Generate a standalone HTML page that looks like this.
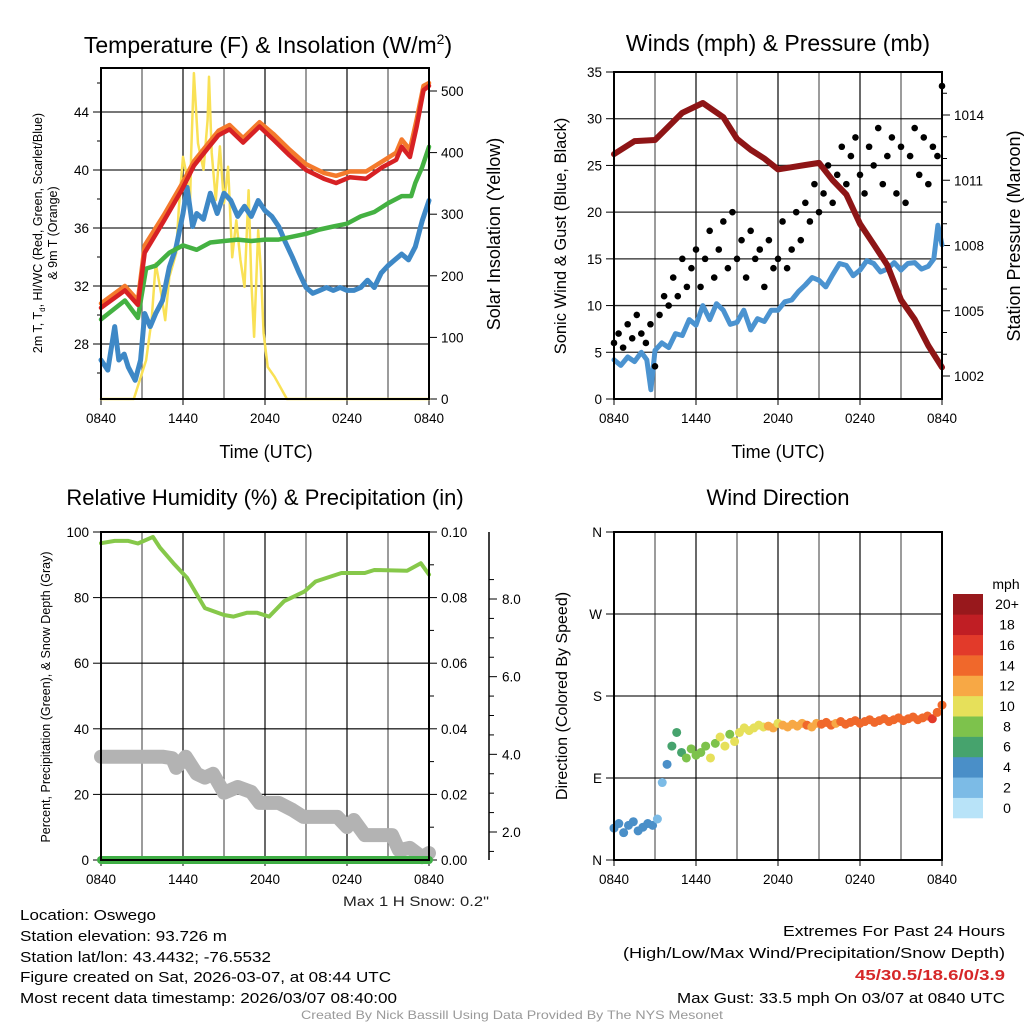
<!DOCTYPE html>
<html><head><meta charset="utf-8">
<style>
html,body{margin:0;padding:0;background:#fff;}
svg{display:block;font-family:"Liberation Sans",sans-serif;}
</style></head>
<body>
<svg id="chart" width="1024" height="1024" viewBox="0 0 1024 1024">
<rect width="1024" height="1024" fill="#fff"/>
<g id="root"></g>
</svg>
<script>
// ---------- DATA ----------
const redT = [0,1.75,2.7,3.2,4.6,5.9,6.8,7.9,8.6,9.4,10.4,11.6,12.6,13.8,15,16.3,17.2,18.2,19.4,20.6,21.6,22,22.6,23.1,23.6,24];
const redV = [30.5,31.7,30.7,34.3,36.5,38.6,40.3,41.6,42.4,42.8,41.9,43,42.1,41,40,39.4,39.1,39.5,39.4,40.2,40.7,41.6,40.9,43,45.5,45.8];
const orangeV = [30.8,32,31,34.8,36.9,39,40.6,41.9,42.7,43.1,42.2,43.3,42.5,41.4,40.4,39.8,39.6,39.9,39.9,40.6,41.2,42.1,41.4,43.5,45.8,46];
const greenT = [0,1.75,2.7,3.3,4,5,6,7,8,9,10,11,12,13,14,15,16,17,18,19,20,21,22,22.7,23,23.5,24];
const greenV = [29.7,31,29.8,33.2,33.4,34.3,34.8,34.5,35,35.1,35.2,35.1,35.2,35.2,35.4,35.6,35.9,36.1,36.3,36.8,37.1,37.7,38.2,38.2,39.1,40.2,41.6];
const blueT = [0,0.5,1,1.3,1.7,2,2.5,2.9,3.2,3.6,4,4.5,5,5.5,6,6.3,6.7,7,7.5,8,8.5,9,9.5,10,10.5,11,11.5,12,12.5,13,13.5,14,14.5,15,15.5,16,16.5,17,17.5,18,18.5,19,19.5,20,20.5,21,21.5,22,22.5,23,23.5,24];
const blueV = [26.9,26.2,29.2,26.9,27.3,26.4,25.5,26.9,30.1,29.2,30.1,31,33.3,34.7,37,38.8,36.1,37,36.6,38.4,37,38.4,37.9,36.8,37.5,36.8,37.9,37.2,36.8,36.1,35,34,32.9,31.9,31.5,31.7,31.9,31.7,31.9,31.7,31.7,31.9,32.4,31.9,32.9,33.4,33.8,34.2,33.8,34.7,36.5,37.9];
const solarT = [0,2.4,3.3,3.7,4,4.4,4.7,5,5.5,5.7,6,6.3,6.5,6.6,6.8,7.1,7.5,7.8,7.9,8.1,8.4,8.7,9,9.3,9.6,9.9,10.2,10.5,10.8,11,11.2,11.5,11.7,11.9,12.2,12.7,13.6,24];
const solarV = [0,0,63,128,220,172,128,198,237,312,393,360,300,400,529,415,372,453,523,400,323,410,318,377,230,290,226,182,339,193,101,274,208,107,52,36,0,0];
const presT = [0,1.5,3,5,6.5,8,9,10,11,12,13,14,15,16,17,18,19,20,21,22,23,24];
const presV = [1012.2,1012.8,1012.85,1014.1,1014.55,1013.9,1012.9,1012.4,1012,1011.5,1011.6,1011.7,1011.8,1011,1010.35,1009,1008.05,1007.1,1005.5,1004.6,1003.4,1002.4];
const windT = [0,0.5,1,1.5,2,2.4,2.7,3,3.5,4,4.5,5,5.5,6,6.5,7,7.5,8,8.5,9,9.5,10,10.5,11,11.5,12,12.5,13,13.5,14,14.5,15,15.5,16,16.5,17,17.5,18,18.5,19,19.5,20,20.5,21,21.5,22,22.5,23,23.4,23.7,24];
const windV = [4.2,3.6,4.5,4.0,5,4.2,1,5.2,6,5.5,7,6.8,8.5,7.9,10,8.5,10.2,9.5,8,8.2,9.5,7.4,8.6,8.3,9.5,9.5,10.4,10.6,11.5,12.2,13,12.7,12,13.3,14.5,14.3,13.2,13.8,14.8,14.5,13.6,13.9,14.6,13.8,14.5,14.6,13.9,14.2,15,18.6,16.5];
const gustV = [6,7,5.5,8,6.5,9,7,6,8,3.5,9,11,10,13,11,15,12,14,16,12,15,18,13,16,19,14,20,15,17,13,18,15,16,12,17,14,15,19,14,16,20,17,21,19,23,20,22,25,21,24,27,23,26,28,24,22,27,25,29,23,26,28,22,27,21,26,29,24,28,23,27,26,33.5];
const rhT = [0,1,2,2.7,3.8,4.3,5.3,6.3,7.6,9,9.7,10.7,11.4,12.3,13.4,14.9,15.7,17.6,19.3,20,22.4,23.4,24];
const rhV = [96.6,97.3,97.3,96.5,98.5,95.3,90.5,86,76.8,74.7,74.2,75.4,75.4,74.2,78.9,81.9,84.9,87.5,87.5,88.4,88.2,90.5,87];
const precipT = [0,24];
const precipV = [0,0];
const snowT = [0,4.5,5.2,5.5,6.2,7,7.6,8.2,9,10,11,11.6,13,14,14.8,17.3,18,18.5,19.3,21.3,21.8,22.6,23.5,24];
const snowV = [3.94,3.94,3.9,3.65,3.94,3.5,3.40,3.5,3.01,3.16,3.03,2.75,2.75,2.57,2.39,2.39,2.13,2.31,1.92,1.92,1.53,1.59,1.35,1.46];
const dirV = [35,40,30,38,42,32,36,40,38,45,85,105,125,140,118,112,122,115,118,125,112,128,135,125,138,130,
  140,145,142,145,148,146,147,145,150,148,146,149,147,150,148,146,150,149,151,148,150,152,149,151,153,150,152,154,151,153,155,152,154,156,153,155,157,154,156,158,155,162,170];
const dirSpd = [4,4,3,4,4,3,4,4,3,1,2,4,6,6,6,7,7,8,8,7,9,8,10,9,8,9,10,9,10,9,10,10,11,11,10,11,12,11,12,12,13,12,12,13,14,13,12,14,13,14,14,13,14,13,14,13,14,14,13,14,14,13,14,14,13,14,15,14,14,15,17,18,19];
const tLabels = ["0840","1440","2040","0240","0840"];
const tempTicks = [28,32,36,40,44];
const solarTicks = [0,100,200,300,400,500];
const windTicks = [0,5,10,15,20,25,30,35];
const presTicks = [1002,1005,1008,1011,1014];
const rhTicks = [0,20,40,60,80,100];
const precipTicks = ["0.00","0.02","0.04","0.06","0.08","0.10"];
const snowTicks = [2,4,6,8];
const dirTicks = ["N","E","S","W","N"];
const cbLabels = ["0","2","4","6","8","10","12","14","16","18","20+"];
const cbColors = ["#b8e3f8","#7cbbe6","#4a8fc8","#46a36d","#7dc24c","#e6e05a","#f7a845","#f0682b","#e23a2a","#c01e24","#98181c"];

// ---------- HELPERS ----------
const NS="http://www.w3.org/2000/svg";
const root=document.getElementById('root');
function el(tag,attrs,parent){const e=document.createElementNS(NS,tag);for(const k in attrs)e.setAttribute(k,attrs[k]);(parent||root).appendChild(e);return e;}
function lin(d0,d1,r0,r1){return v=>r0+(v-d0)*(r1-r0)/(d1-d0);}
function txt(s,x,y,size,anchor,parent,extra){const t=el('text',Object.assign({x:x,y:y,'font-size':size,'text-anchor':anchor||'middle',fill:'#000'},extra||{}),parent);t.textContent=s;return t;}
function path(xs,ys,sx,sy,g,style){let d='';for(let i=0;i<xs.length;i++){d+=(i?'L':'M')+sx(xs[i]).toFixed(1)+','+sy(ys[i]).toFixed(1);}return el('path',Object.assign({d:d,fill:'none','stroke-linejoin':'round','stroke-linecap':'round'},style),g);}

function frame(P,name){
  const g=el('g',{});
  
  
  P.g=g;
  P.sx=lin(0,24,P.x0,P.x1);
  for(let h=3;h<24;h+=3){const x=P.sx(h);el('line',{x1:x,x2:x,y1:P.y0,y2:P.y1,stroke:'#000','stroke-width':1.3,'stroke-opacity':h%6?0.6:0.9},g);}
  const xl=el('g',{},g);
  
  
  tLabels.forEach((s,i)=>{const x=P.sx(i*6);el('line',{x1:x,x2:x,y1:P.y1,y2:P.y1+6,stroke:'#000','stroke-width':1},g);txt(s,x,P.y1+24,13.5,'middle',xl);});
  return g;
}
function box(P){el('rect',{x:P.x0,y:P.y0,width:P.x1-P.x0,height:P.y1-P.y0,fill:'none',stroke:'#000','stroke-width':2},P.g);}
function hgrid(P,vals,sy,labels,side){
  const lg=el('g',{},P.g);
  
  
  vals.forEach((v,i)=>{const y=sy(v);
    if(side==='left'){el('line',{x1:P.x0,x2:P.x1,y1:y,y2:y,stroke:'#000','stroke-width':1.3,'stroke-opacity':0.85},P.g);el('line',{x1:P.x0-8,x2:P.x0,y1:y,y2:y,stroke:'#000'},P.g);txt(labels?labels[i]:String(v),P.x0-12,y+5,13.5,'end',lg);}
    else{el('line',{x1:P.x1,x2:P.x1+8,y1:y,y2:y,stroke:'#000'},P.g);txt(labels?labels[i]:String(v),P.x1+12,y+5,13.5,'start',lg);}
  });
}

// ---------- PANEL 1 ----------
const P1={x0:101,x1:429,y0:68,y1:399};
frame(P1,'temperature-panel');
const syT=lin(28,44,344,112), sySol=lin(0,500,399,91);
hgrid(P1,tempTicks,syT,null,'left');
hgrid(P1,solarTicks,sySol,null,'right');
for(let v=26;v<=46;v+=2){if(v%4){const y=syT(v);el('line',{x1:P1.x0-4,x2:P1.x0,y1:y,y2:y,stroke:'#000'},P1.g);}}
let s;
s=path(solarT,solarV,P1.sx,sySol,P1.g,{stroke:'#f9e155','stroke-width':2.5});


s=path(blueT,blueV,P1.sx,syT,P1.g,{stroke:'#3e88c6','stroke-width':5});


s=path(greenT,greenV,P1.sx,syT,P1.g,{stroke:'#44b142','stroke-width':4.5});


s=path(redT,orangeV,P1.sx,syT,P1.g,{stroke:'#f47a2c','stroke-width':4.5});


s=path(redT,redV,P1.sx,syT,P1.g,{stroke:'#d72124','stroke-width':4.5});


box(P1);
s=el('text',{x:268,y:53,'font-size':23,'text-anchor':'middle'});
s.innerHTML='Temperature (F) &amp; Insolation (W/m<tspan font-size="14" dy="-9">2</tspan><tspan dy="9">)</tspan>';


s=el('text',{transform:'translate(42,233) rotate(-90)','font-size':12.5,'text-anchor':'middle'});
s.innerHTML='2m T, T<tspan font-size="8" dy="3">d</tspan><tspan dy="-3">, HI/WC (Red, Green, Scarlet/Blue)</tspan>';


s=txt('& 9m T (Orange)',0,0,12.5,'middle',root,{transform:'translate(57,233) rotate(-90)'});


s=txt('Solar Insolation (Yellow)',0,0,18,'middle',root,{transform:'translate(500,234) rotate(-90)'});


s=txt('Time (UTC)',266,458,18);



// ---------- PANEL 2 ----------
const P2={x0:614,x1:942,y0:72,y1:399};
frame(P2,'winds-panel');
const syW=lin(0,35,399,72), syP=lin(1002,1014,376,115);
hgrid(P2,windTicks,syW,null,'left');
hgrid(P2,presTicks,syP,null,'right');
for(let v=1003;v<=1015;v++){if((v-1002)%3){const y=syP(v);el('line',{x1:P2.x1,x2:P2.x1+5,y1:y,y2:y,stroke:'#000'},P2.g);}}
s=path(windT,windV,P2.sx,syW,P2.g,{stroke:'#4b93d0','stroke-width':5});


const gg=el('g',{},P2.g);


gustV.forEach((v,i)=>{const c=el('circle',{cx:P2.sx(i*24/(gustV.length-1)),cy:syW(v),r:3.3,fill:'#000'},gg);

});
s=path(presT,presV,P2.sx,syP,P2.g,{stroke:'#8e1516','stroke-width':6});


box(P2);
s=txt('Winds (mph) & Pressure (mb)',778,51,23);


s=txt('Sonic Wind & Gust (Blue, Black)',0,0,16.5,'middle',root,{transform:'translate(566,236) rotate(-90)'});


s=txt('Station Pressure (Maroon)',0,0,18,'middle',root,{transform:'translate(1020,236) rotate(-90)'});


s=txt('Time (UTC)',778,458,18);



// ---------- PANEL 3 ----------
const P3={x0:101,x1:429,y0:532,y1:860};
frame(P3,'humidity-panel');
const syRH=lin(0,100,860,532), syPr=lin(0,0.1,860,532), sySn=lin(2,8,832,599);
hgrid(P3,rhTicks,syRH,null,'left');
hgrid(P3,[0,0.02,0.04,0.06,0.08,0.1],syPr,precipTicks,'right');
for(let v=0.01;v<0.1;v+=0.02){const y=syPr(v);el('line',{x1:P3.x1,x2:P3.x1+5,y1:y,y2:y,stroke:'#000'},P3.g);}
const sa=el('g',{});


el('line',{x1:489,x2:489,y1:532,y2:860,stroke:'#000','stroke-width':1.5},sa);
snowTicks.forEach(v=>{const y=sySn(v);el('line',{x1:489,x2:497,y1:y,y2:y,stroke:'#000'},sa);txt(v.toFixed(1),502,y+5,13.5,'start',sa);});
for(let v=1.5;v<=8.6;v+=0.5){if(v%2){const y=sySn(v);if(y>=532&&y<=860)el('line',{x1:489,x2:494,y1:y,y2:y,stroke:'#000'},sa);}}
s=path(snowT,snowV,P3.sx,sySn,P3.g,{stroke:'#b3b3b3','stroke-width':14});


s=path(rhT,rhV,P3.sx,syRH,P3.g,{stroke:'#86c84a','stroke-width':4});


s=path(precipT,precipV,P3.sx,syPr,P3.g,{stroke:'#3fae45','stroke-width':8});


box(P3);
s=txt('Relative Humidity (%) & Precipitation (in)',265,505,22);


s=txt('Percent, Precipitation (Green), & Snow Depth (Gray)',0,0,12.5,'middle',root,{transform:'translate(50,697) rotate(-90)'});


s=txt('Max 1 H Snow: 0.2"',489,906,14,'end',root,{textLength:146,lengthAdjust:'spacingAndGlyphs',fill:'#222'});



// ---------- PANEL 4 ----------
const P4={x0:614,x1:942,y0:532,y1:860};
frame(P4,'wind-direction-panel');
const syD=lin(0,360,860,532);
hgrid(P4,[0,90,180,270,360],syD,dirTicks,'left');
const dg=el('g',{},P4.g);


function spdColor(v){let i=Math.floor((v+1)/2);if(i<0)i=0;if(i>10)i=10;return cbColors[i];}
dirV.forEach((v,i)=>{const sp=dirSpd[i]!==undefined?dirSpd[i]:dirSpd[dirSpd.length-1];
  const c=el('circle',{cx:P4.sx(i*24/(dirV.length-1)),cy:syD(v),r:4.5,fill:spdColor(sp)},dg);
  
  });
box(P4);
s=txt('Wind Direction',778,505,22);


s=txt('Direction (Colored By Speed)',0,0,16,'middle',root,{transform:'translate(567,696) rotate(-90)'});


const cb=el('g',{});


const cbH=(818-594)/11;
cbLabels.forEach((lab,i)=>{const y=818-(i+1)*cbH;
  const r=el('rect',{x:953,y:y,width:30,height:cbH+0.3,fill:cbColors[i]},cb);
  
  
  txt(lab,1007,y+cbH/2+5,14,'middle',cb);});
txt('mph',1006,589,14,'middle',cb);

// ---------- footer ----------
const ft=el('g',{});


[['Location: Oswego',920,136],['Station elevation: 93.726 m',941,207],['Station lat/lon: 43.4432; -76.5532',962,251],['Figure created on Sat, 2026-03-07, at 08:44 UTC',982,371],['Most recent data timestamp: 2026/03/07 08:40:00',1003,377]].forEach(a=>{txt(a[0],20,a[1],15,'start',ft,{textLength:a[2],lengthAdjust:'spacingAndGlyphs'});});
const ex=el('g',{});


txt('Extremes For Past 24 Hours',1005,936,15,'end',ex,{textLength:222,lengthAdjust:'spacingAndGlyphs'});
txt('(High/Low/Max Wind/Precipitation/Snow Depth)',1005,958,15,'end',ex,{textLength:382,lengthAdjust:'spacingAndGlyphs'});
txt('45/30.5/18.6/0/3.9',1005,980,15,'end',ex,{textLength:150,lengthAdjust:'spacingAndGlyphs',fill:'#d62728','font-weight':'bold'});
txt('Max Gust: 33.5 mph On 03/07 at 0840 UTC',1005,1003,15,'end',ex,{textLength:328,lengthAdjust:'spacingAndGlyphs'});
s=txt('Created By Nick Bassill Using Data Provided By The NYS Mesonet',512,1019,12,'middle',root,{fill:'#999',textLength:422,lengthAdjust:'spacingAndGlyphs'});


</script>
</body></html>
